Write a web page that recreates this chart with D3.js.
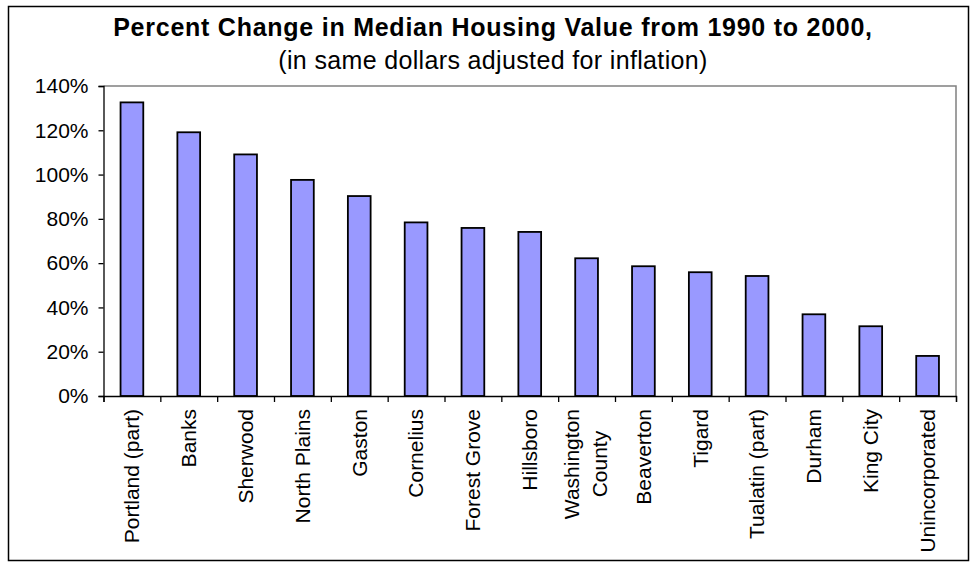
<!DOCTYPE html>
<html>
<head>
<meta charset="utf-8">
<script src="https://cdn.jsdelivr.net/npm/d3@7"></script>
<style>
  body { margin: 0; background: #fff; }
  text { font-family: "Liberation Sans", Arial, sans-serif; fill: #000; }
</style>
</head>
<body>
<div id="chart"></div>
<script>
// data
var places = ["Portland (part)", "Banks", "Sherwood", "North Plains", "Gaston", "Cornelius",
              "Forest Grove", "Hillsboro", "Washington\nCounty", "Beaverton", "Tigard",
              "Tualatin (part)", "Durham", "King City", "Unincorporated"]
var pctChange = [132.6, 119.1, 109.1, 97.6, 90.3, 78.4, 75.9, 74.1, 62.2, 58.6, 55.9, 54.2, 36.9, 31.5, 18.1]
var yTicks = [0, 20, 40, 60, 80, 100, 120, 140]
var title = "Percent Change in Median Housing Value from 1990 to 2000,"
var subtitle = "(in same dollars adjusted for inflation)"

var W = 973, H = 566
var margin = {top: 86, right: 17, bottom: 170, left: 103.5},
    width = W - margin.left - margin.right,
    height = H - margin.top - margin.bottom

var svg = d3.select("#chart")
            .append("svg")
            .attr("width", W)
            .attr("height", H)

// outer frame
svg.append("rect")
    .attr("x", 8.5).attr("y", 6.5)
    .attr("width", 960).attr("height", 554)
    .attr("fill", "none")
    .attr("stroke", "#000")
    .attr("stroke-width", 1.5)

svg.append("text")
    .attr("x", 493).attr("y", 36)
    .attr("text-anchor", "middle")
    .style("font-size", "25px")
    .style("font-weight", "bold")
    .style("letter-spacing", "0.75px")
    .text(title)

svg.append("text")
    .attr("x", 493).attr("y", 69)
    .attr("text-anchor", "middle")
    .style("font-size", "25px")
    .style("letter-spacing", "0.35px")
    .text(subtitle)

var g = svg.append("g")
    .attr("transform", "translate(" + margin.left + "," + margin.top + ")")

var x = d3.scaleBand().domain(places).range([0, width]).paddingInner(0.6).paddingOuter(0.3)
var xb = d3.scaleLinear().domain([0, places.length]).range([0, width])
var y = d3.scaleLinear().domain([0, 140]).range([height, 0])

// plot area border (grey top / right)
g.append("path")
    .attr("d", "M0," + y(140) + "H" + width + "V" + y(0))
    .attr("fill", "none")
    .attr("stroke", "#808080")
    .attr("stroke-width", 1.5)

// bars
g.append("g")
    .selectAll("rect")
    .data(pctChange)
    .enter()
    .append("rect")
    .attr("x", function(d, i) { return x(places[i]) })
    .attr("y", function(d) { return y(d) })
    .attr("width", x.bandwidth())
    .attr("height", function(d) { return y(0) - y(d) })
    .attr("fill", "#9999ff")
    .attr("stroke", "#000")
    .attr("stroke-width", 1.8)

// y axis
var yAxis = g.append("g")
    .call(d3.axisLeft(y).tickValues(yTicks).tickSize(5).tickPadding(10)
            .tickFormat(function(d) { return d + "%" }))
yAxis.selectAll("text").style("font-size", "21px")
yAxis.selectAll("path, line").attr("stroke", "#000").attr("stroke-width", 1.3)

// x axis: ticks between categories
var xAxis = g.append("g")
    .attr("transform", "translate(0," + height + ")")
    .call(d3.axisBottom(xb).tickValues(d3.range(places.length + 1)).tickSize(6).tickFormat(""))
xAxis.selectAll("path, line").attr("stroke", "#000").attr("stroke-width", 1.3)

// rotated category labels
var labels = g.append("g")
    .selectAll("g")
    .data(places)
    .enter()
    .append("g")
    .attr("transform", function(d) {
        return "translate(" + (x(d) + x.bandwidth() / 2) + "," + (height + 13) + ") rotate(-90)"
    })

labels.each(function(d) {
    var lines = d.split("\n")
    var sel = d3.select(this)
    var n = lines.length
    var t = sel.append("text")
        .attr("text-anchor", "end")
        .style("font-size", "21px")
    if (n == 1) {
        t.attr("dy", "0.35em").text(d)
    } else {
        // centre the lines on each other, longest ends at the axis
        var widths = lines.map(function(s) {
            t.text(s); return t.node().getComputedTextLength()
        })
        t.remove()
        var maxW = d3.max(widths)
        lines.forEach(function(s, k) {
            sel.append("text")
                .attr("text-anchor", "middle")
                .attr("x", -maxW / 2)
                .attr("dy", (0.3 + (k - (n - 1) / 2) * 1.3) + "em")
                .style("font-size", "21px")
                .text(s)
        })
    }
})
</script>
</body>
</html>
